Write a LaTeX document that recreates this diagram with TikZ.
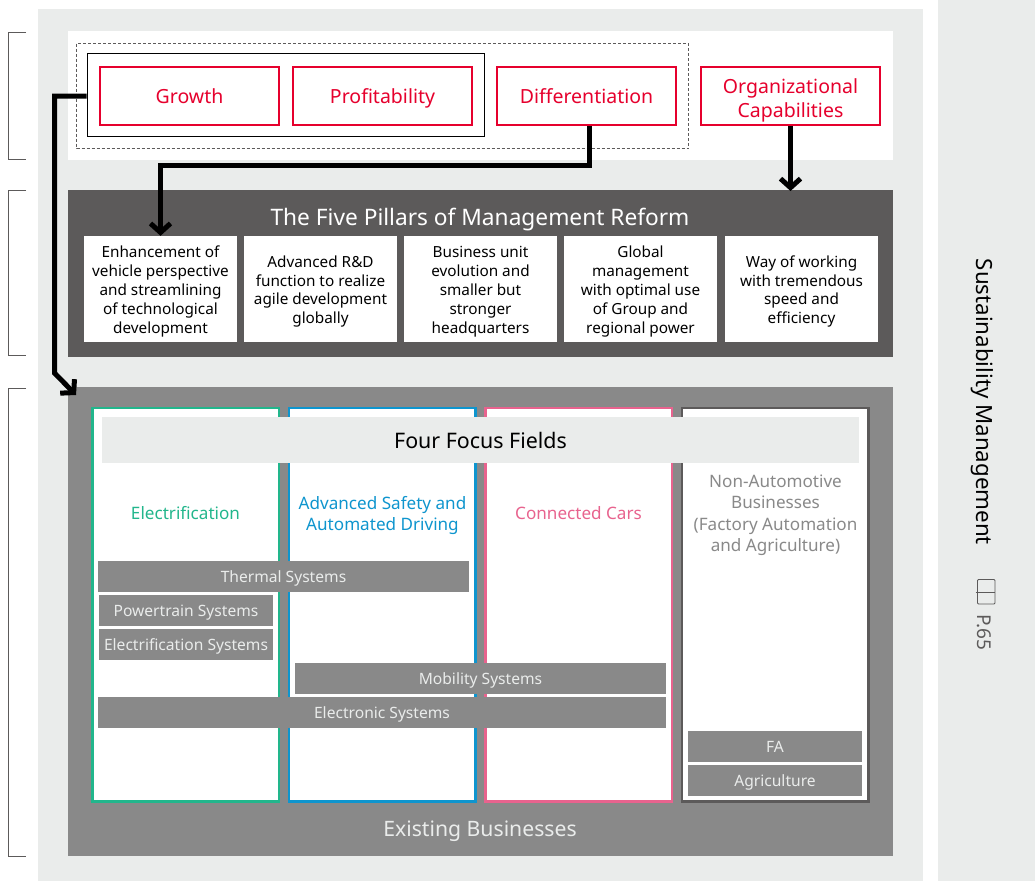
\documentclass[tikz,border=0pt]{standalone}
\usepackage{fontspec}
\setmainfont{Noto Sans}
\usetikzlibrary{arrows.meta}
\definecolor{palegray}{HTML}{EAECEB}
\definecolor{pillargray}{HTML}{5C5A5A}
\definecolor{fieldgray}{HTML}{898989}
\definecolor{strategyred}{HTML}{E6002D}
\definecolor{elecgreen}{HTML}{22B68C}
\definecolor{safeblue}{HTML}{0E95CE}
\definecolor{carpink}{HTML}{E8638E}
\newcommand{\capstrut}{\rule[-.35em]{0pt}{1.45em}}
\newcommand{\droptext}[1]{\rule{0pt}{#1}}
\tikzset{
  capcentred/.style={execute at begin node=\capstrut, execute at end node=\capstrut},
  strategybox/.style={capcentred, draw=strategyred, line width=2pt, fill=white, text=strategyred, inner sep=0pt, align=center,
    minimum width=179pt, minimum height=58pt, font=\fontsize{19.5}{24}\selectfont},
  pillarbox/.style={capcentred, fill=white, text=black, inner sep=0pt, align=center, minimum height=106pt,
    minimum width=153pt, font=\fontsize{15.3}{18.8}\selectfont},
  fieldlabel/.style={capcentred, align=center, inner sep=0pt, font=\fontsize{17.1}{21.5}\selectfont},
  systembar/.style={capcentred, fill=fieldgray, text=palegray, inner sep=0pt, minimum height=31pt, font=\fontsize{15.6}{18}\selectfont},
  bigtitle/.style={capcentred, inner sep=0pt, font=\fontsize{21.2}{26}\selectfont},
  flowline/.style={line width=5pt, -{Straight Barb[length=9pt,width=20pt]}},
  sidebracket/.style={draw=pillargray, line width=1pt},
  fieldcolumn/.style={line width=2.5pt, fill=white},
}
\begin{document}
\begin{tikzpicture}[x=1pt,y=-1pt]
  \useasboundingbox (0,0) rectangle (1035,881);
  \fill [palegray] (38,9) rectangle (923,881);
  \fill [palegray] (938,0) rectangle (1035,881);

  % brackets
  \draw [sidebracket] (26,32) -- (8,32) -- (8,159) -- (26,159);
  \draw [sidebracket] (26,190) -- (8,190) -- (8,355) -- (26,355);
  \draw [sidebracket] (26,388) -- (8,388) -- (8,856) -- (26,856);

  % strategy
  \fill [white] (68,31) rectangle (893,160);
  \draw [line width=1pt, densely dashed, pillargray] (76.5,43.5) rectangle (688.5,148.5);
  \node [draw=black, line width=1pt, fill=white, minimum width=397pt, minimum height=83pt, inner sep=0pt] (corebox) at (285.7,95) {};
  \node [strategybox] (growth) at (189.5,96) {Growth};
  \node [strategybox] (profit) at (382.5,96) {Profitability};
  \node [strategybox] (differ) at (586.5,96) {Differentiation};
  \node [strategybox] (organ) at (790.5,96) {\droptext{25.8pt}Organizational\\Capabilities};

  % pillars
  \fill [pillargray] (68,190) rectangle (893,357);
  \node [bigtitle, text=white, font=\fontsize{22.7}{28}\selectfont] (pillartitle) at (480,217) {The Five Pillars of Management Reform};
  \node [pillarbox] (pillara) at (160.5,289) {\droptext{18.5pt}Enhancement of\\vehicle perspective\\and streamlining\\of technological\\development};
  \node [pillarbox] (pillarb) at (320.5,289) {\droptext{18.5pt}Advanced R\&D\\function to realize\\agile development\\globally};
  \node [pillarbox] (pillarc) at (480.5,289) {\droptext{18.5pt}Business unit\\evolution and\\smaller but\\stronger\\headquarters};
  \node [pillarbox] (pillard) at (640.5,289) {\droptext{18.5pt}Global\\management\\with optimal use\\of Group and\\regional power};
  \node [pillarbox] (pillare) at (801.5,289) {\droptext{18.5pt}Way of working\\with tremendous\\speed and\\efficiency};

  % businesses
  \fill [fieldgray] (68,387) rectangle (893,856);
  \draw [fieldcolumn, draw=elecgreen] (92.7,408) rectangle (279,801.5);
  \draw [fieldcolumn, draw=safeblue] (289.2,408) rectangle (475.5,801.5);
  \draw [fieldcolumn, draw=carpink] (485.7,408) rectangle (672,801.5);
  \draw [fieldcolumn, draw=pillargray] (682.2,408) rectangle (868.5,801.5);
  \node [capcentred, fill=palegray, inner sep=0pt, minimum width=757pt, minimum height=46pt, font=\fontsize{21.4}{26}\selectfont] (focus) at (480.5,440) {Four Focus Fields};
  \node [fieldlabel, text=elecgreen] (electric) at (185.5,513) {Electrification};
  \node [fieldlabel, text=safeblue] (safety) at (382.5,516.4) {Advanced Safety and\\Automated Driving};
  \node [fieldlabel, text=carpink] (connect) at (578.5,513) {Connected Cars};
  \node [fieldlabel, text=fieldgray] (nonauto) at (775.5,516.4) {Non-Automotive\\Businesses\\(Factory Automation\\and Agriculture)};
  \node [systembar, minimum width=371pt] (thermal) at (283.5,576.5) {Thermal Systems};
  \node [systembar, minimum width=174pt] (power) at (186,610.5) {Powertrain Systems};
  \node [systembar, minimum width=174pt] (elecsys) at (186,644.5) {Electrification Systems};
  \node [systembar, minimum width=371pt] (mobility) at (480.5,678.5) {Mobility Systems};
  \node [systembar, minimum width=568pt] (electronic) at (382,712.5) {Electronic Systems};
  \node [systembar, minimum width=174pt] (fa) at (775,746.5) {FA};
  \node [systembar, minimum width=174pt] (agri) at (775,780.5) {Agriculture};
  \node [bigtitle, text=palegray] (existing) at (480,829) {Existing Businesses};

  % arrows
  \coordinate (pillartop) at (organ.south |- 0,191);
  \coordinate (fieldcorner) at (76,395);
  \draw [flowline] (organ.south) -- (pillartop);
  \draw [flowline] ([xshift=2.5pt]differ.south) -- ++(0,39.5) -| (pillara.north);
  \draw [flowline] (corebox.west |- growth.west) -- (54.5,96) -- (54.5,373) -- (fieldcorner);

  % side
  \node [bigtitle, rotate=-90, font=\fontsize{22.3}{28}\selectfont] (sustain) at (984.5,402) {Sustainability Management};
  \draw [line width=.8pt, pillargray, rounded corners=1pt] (977.5,579.5) rectangle (995,604);
  \draw [line width=.8pt, pillargray] (975.5,592) -- (995,592);
  \node [bigtitle, rotate=-90, text=pillargray, font=\fontsize{19}{24}\selectfont] (pageref) at (985,632) {P.65};
\end{tikzpicture}
\end{document}
